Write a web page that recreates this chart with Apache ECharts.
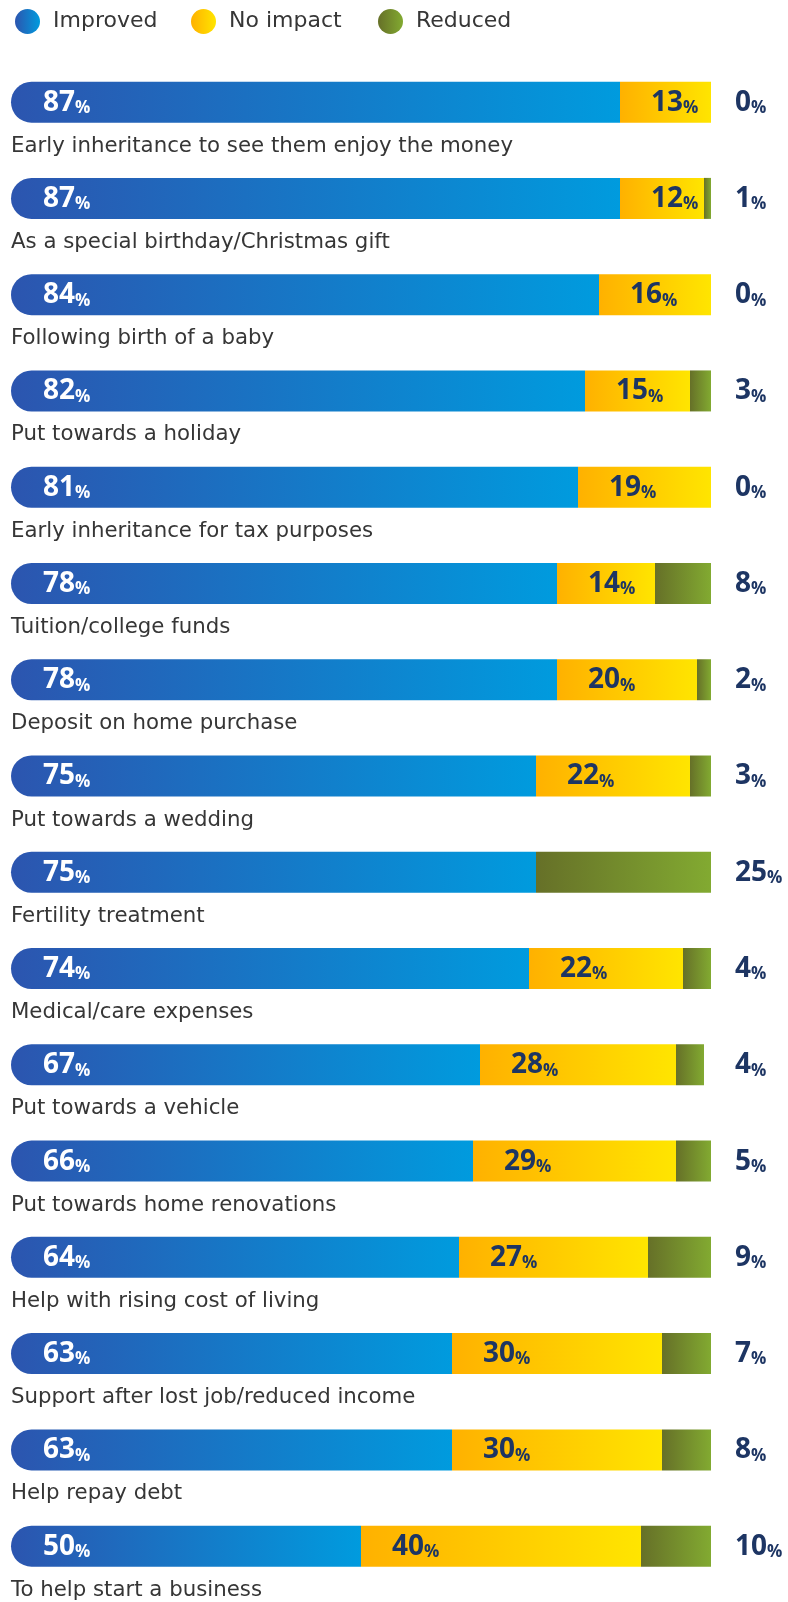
<!DOCTYPE html>
<html>
<head>
<meta charset="utf-8">
<script src="https://cdn.jsdelivr.net/npm/echarts@6/dist/echarts.min.js"></script>
<style>
  html, body { margin: 0; padding: 0; background: #ffffff; }
  #chart { width: 788px; height: 1602px; }
</style>
</head>
<body>
<div id="chart"></div>
<script>
// Reasons for giving money, top to bottom
const categories = [
  'Early inheritance to see them enjoy the money',
  'As a special birthday/Christmas gift',
  'Following birth of a baby',
  'Put towards a holiday',
  'Early inheritance for tax purposes',
  'Tuition/college funds',
  'Deposit on home purchase',
  'Put towards a wedding',
  'Fertility treatment',
  'Medical/care expenses',
  'Put towards a vehicle',
  'Put towards home renovations',
  'Help with rising cost of living',
  'Support after lost job/reduced income',
  'Help repay debt',
  'To help start a business'
];
const improved = [87, 87, 84, 82, 81, 78, 78, 75, 75, 74, 67, 66, 64, 63, 63, 50];
const noImpact = [13, 12, 16, 15, 19, 14, 20, 22, 0, 22, 28, 29, 27, 30, 30, 40];
const reduced  = [0, 1, 0, 3, 0, 8, 2, 3, 25, 4, 4, 5, 9, 7, 8, 10];

const TEXT_FONT = '"DejaVu Sans", "Noto Sans", sans-serif';
const NUM_FONT = '"Open Sans", "Noto Sans", sans-serif';
const NAVY = '#1d3563';
const GREY = '#363636';

function grad(a, b) {
  return { type: 'linear', x: 0, y: 0, x2: 1, y2: 0,
           colorStops: [{ offset: 0, color: a }, { offset: 1, color: b }] };
}
const blue = grad('#2c55af', '#009bde');
const yellow = grad('#ffb100', '#ffe500');
const green = grad('#667028', '#82aa31');

function valueRich(color) {
  return {
    n: { fontFamily: NUM_FONT, fontWeight: 'bold', fontSize: 28, lineHeight: 29, color: color, verticalAlign: 'bottom' },
    p: { fontFamily: NUM_FONT, fontWeight: 'bold', fontSize: 17, lineHeight: 22, color: color, verticalAlign: 'bottom' }
  };
}
function pctLabel(v) { return v > 0 ? '{n|' + v + '}{p|%}' : ''; }

const legendText = { fontFamily: TEXT_FONT, fontSize: 22, color: GREY, padding: [0, 0, 0, 8] };
const legendBase = { top: 4, itemWidth: 25, itemHeight: 25, icon: 'circle', textStyle: legendText };

const chart = echarts.init(document.getElementById('chart'), null, { renderer: 'canvas' });
chart.setOption({
  animation: false,
  backgroundColor: '#ffffff',
  legend: [
    Object.assign({ data: ['Improved'], left: 10 }, legendBase),
    Object.assign({ data: ['No impact'], left: 186 }, legendBase),
    Object.assign({ data: ['Reduced'], left: 373 }, legendBase)
  ],
  grid: { left: 11, right: 77, top: 54, bottom: 3, containLabel: false },
  xAxis: { type: 'value', min: 0, max: 100, show: false },
  yAxis: [
    {
      type: 'category', data: categories, inverse: true,
      axisLine: { show: false }, axisTick: { show: false }, splitLine: { show: false },
      axisLabel: {
        inside: true, margin: 0, verticalAlign: 'top', align: 'left',
        fontFamily: TEXT_FONT, fontSize: 21.3, lineHeight: 24, color: GREY,
        padding: [32, 0, 0, 0]
      }
    },
    {
      type: 'category', data: categories, inverse: true, position: 'right',
      axisLine: { show: false }, axisTick: { show: false }, splitLine: { show: false },
      axisLabel: {
        margin: 24, align: 'left',
        formatter: (v, i) => '{n|' + reduced[i] + '}{p|%}',
        rich: valueRich(NAVY)
      }
    }
  ],
  series: [
    {
      name: 'Improved', type: 'bar', stack: 'total', barWidth: 41, data: improved,
      itemStyle: { color: blue, borderRadius: [21, 0, 0, 21] },
      label: { show: true, position: 'insideLeft', distance: 32,
               formatter: p => pctLabel(p.value), rich: valueRich('#ffffff') }
    },
    {
      name: 'No impact', type: 'bar', stack: 'total', barWidth: 41, data: noImpact,
      itemStyle: { color: yellow },
      label: { show: true, position: 'insideLeft', distance: 31,
               formatter: p => pctLabel(p.value), rich: valueRich(NAVY) }
    },
    {
      name: 'Reduced', type: 'bar', stack: 'total', barWidth: 41, data: reduced,
      itemStyle: { color: green },
      label: { show: false }
    }
  ]
});
</script>
</body>
</html>
